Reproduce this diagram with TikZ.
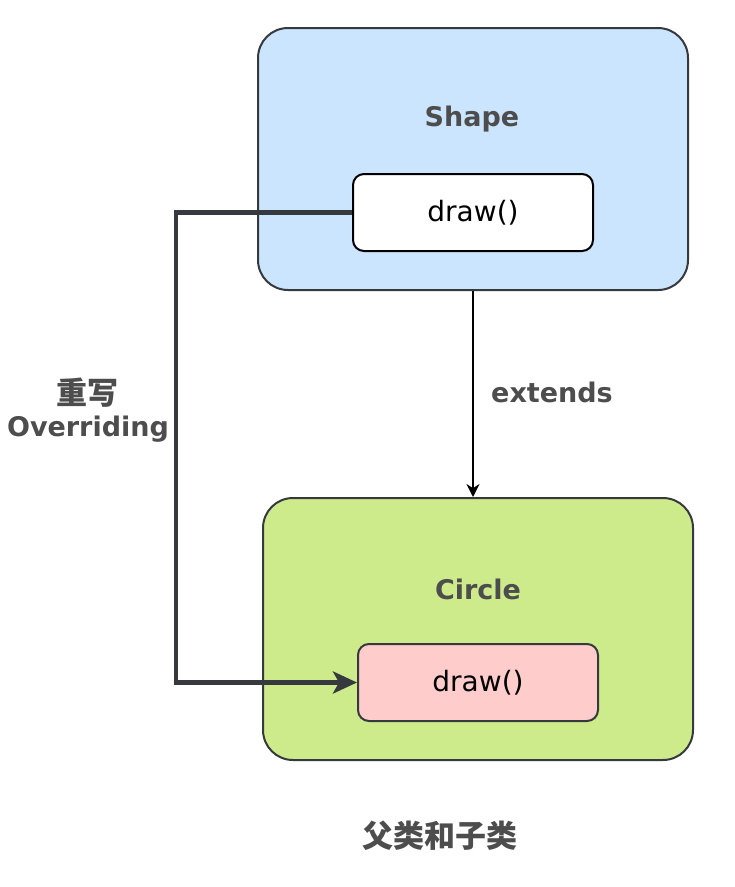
\documentclass[tikz,border=0pt]{standalone}
\usepackage{fontspec}
\setmainfont{DejaVu Sans}
\newfontfamily\cjkfont{Noto Sans CJK SC}
\usetikzlibrary{arrows.meta}
\usetikzlibrary{positioning}
\definecolor{shapeblue}{HTML}{CCE5FF}
\definecolor{circlegreen}{HTML}{CDEB8B}
\definecolor{methodpink}{HTML}{FFCCCC}
\definecolor{strokegray}{HTML}{36393D}
\definecolor{textgray}{HTML}{4D4D4D}

\begin{document}
\begin{tikzpicture}[
			x = 1pt, y = -1pt,
			classbox/.style = {
				draw = strokegray, line width = 2pt,
				rounded corners = 30pt,
				minimum width = 430pt, minimum height = 262pt,
			},
			methodbox/.style = {
				line width = 2pt, rounded corners = 11pt,
				minimum width = 240pt, minimum height = 77pt,
				font = \fontsize{28}{32}\selectfont,
			},
			title/.style = {
				text = textgray, font = \fontsize{27}{32}\selectfont\bfseries,
			},
			override/.style = {
				draw = strokegray, line width = 4.5pt,
				-{Stealth[length = 24pt, width = 22pt, inset = 6pt]},
			},
			extendsline/.style = {
				draw = black, line width = 2.2pt,
				-{Stealth[length = 13pt, width = 13pt]},
			},
		]

		\useasboundingbox (0, 0) rectangle (735, 887);

		% parent class
		\node[classbox, fill = shapeblue] (shapebox) at (473, 159) {};
		\node[title] (shapetitle) at (472, 119) {Shape};
		\node[methodbox, draw = black, fill = white] (shapedraw) at (473, 212.5) {draw()};

		% child class
		\node[classbox, fill = circlegreen] (circlebox) at (478, 629) {};
		\node[title] (circletitle) at (478, 589) {Circle};
		\node[methodbox, draw = strokegray, fill = methodpink] (circledraw) at (478, 682.5) {draw()};

		\draw[extendsline] (shapebox.south) to (shapebox.south |- circlebox.north);
		\node[title] (extendslabel) at (552, 392) {extends};

		\draw[override] (shapedraw.west) -- ++(-176, 0) |- (circledraw.west);
		\node[title, align = center] (overridelabel) at (88, 410)
			{{\cjkfont\fontsize{31}{40}\selectfont 重写}\\Overriding};

		\node[title] (caption) at (440, 836) {\cjkfont\fontsize{31}{36}\selectfont 父类和子类};

	\end{tikzpicture}
\end{document}
